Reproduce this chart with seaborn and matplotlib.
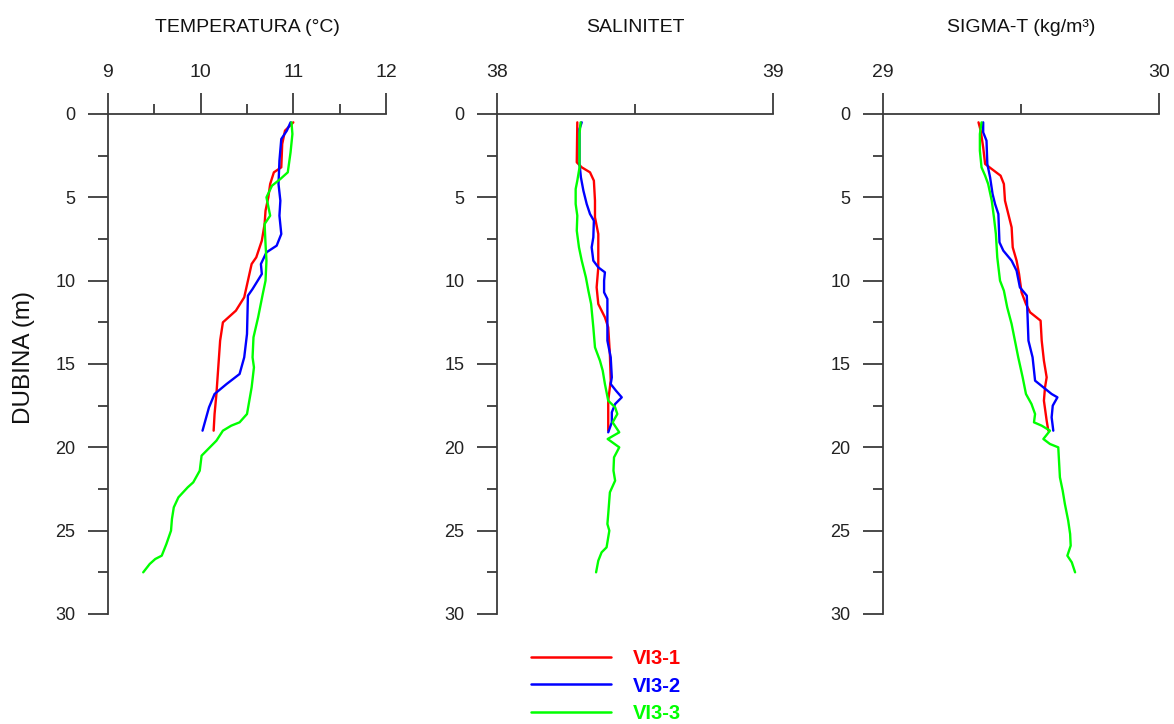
import numpy as np
import pandas as pd
import matplotlib
matplotlib.use("Agg")
import matplotlib.pyplot as plt
from matplotlib.ticker import MultipleLocator
import seaborn as sns

# ---------------- data ----------------
stations = ["VI3-1", "VI3-2", "VI3-3"]
colors = ["#ff0000", "#0000ff", "#00ff00"]

# Temperature (°C)
temp_d1 = [0.5, 1.0, 1.8, 3.2, 3.5, 4.2, 5.0, 5.8, 6.6, 7.6, 8.6, 9.0, 10.0, 11.0, 11.8, 12.5, 13.6, 15.2, 16.8, 18.0, 19.0]
temp_v1 = [11.00, 10.91, 10.88, 10.87, 10.79, 10.75, 10.73, 10.70, 10.69, 10.66, 10.60, 10.55, 10.51, 10.47, 10.38, 10.24, 10.21, 10.19, 10.17, 10.15, 10.14]
temp_d2 = [0.5, 1.0, 1.5, 2.8, 4.2, 5.2, 6.1, 7.2, 7.9, 8.3, 9.0, 9.6, 10.5, 10.9, 13.2, 14.6, 15.6, 16.2, 16.8, 17.6, 19.0]
temp_v2 = [10.97, 10.93, 10.87, 10.85, 10.84, 10.86, 10.85, 10.87, 10.82, 10.71, 10.65, 10.66, 10.56, 10.51, 10.50, 10.47, 10.42, 10.28, 10.15, 10.09, 10.02]
temp_d3 = [0.5, 1.2, 2.3, 3.5, 3.9, 4.3, 5.0, 6.1, 6.6, 7.8, 8.8, 10.0, 10.8, 12.2, 13.4, 14.6, 15.2, 16.4, 17.2, 18.0,
           18.5, 18.7, 19.0, 19.6, 20.5, 21.4, 22.1, 22.4, 23.0, 23.6, 24.3, 25.0, 25.8, 26.5, 26.7, 27.0, 27.5]
temp_v3 = [10.98, 10.99, 10.97, 10.94, 10.86, 10.77, 10.71, 10.75, 10.69, 10.70, 10.71, 10.70, 10.67, 10.62, 10.57, 10.56, 10.575, 10.55, 10.525, 10.50,
           10.42, 10.33, 10.24, 10.17, 10.01, 9.99, 9.92, 9.86, 9.76, 9.71, 9.69, 9.68, 9.63, 9.58, 9.51, 9.45, 9.38]

# Salinity
sal_d1 = [0.5, 2.9, 3.2, 3.5, 4.0, 5.2, 6.2, 7.2, 9.2, 10.4, 11.4, 12.2, 12.8, 14.4, 16.0, 17.2, 19.0]
sal_v1 = [38.291, 38.289, 38.307, 38.337, 38.351, 38.355, 38.355, 38.367, 38.367, 38.361, 38.367, 38.391, 38.403, 38.409, 38.412, 38.403, 38.403]
sal_d2 = [0.5, 0.9, 3.0, 3.8, 4.6, 5.4, 6.0, 6.4, 7.4, 8.0, 8.8, 9.2, 9.5, 10.0, 10.7, 11.1, 13.6, 14.6, 15.8, 16.2, 16.6, 17.0, 17.4, 17.9, 18.5, 19.1]
sal_v2 = [38.307, 38.299, 38.299, 38.304, 38.313, 38.325, 38.337, 38.351, 38.349, 38.343, 38.349, 38.367, 38.391, 38.388, 38.388, 38.400, 38.400, 38.412, 38.416, 38.412, 38.431, 38.452, 38.428, 38.416, 38.416, 38.403]
sal_d3 = [0.5, 1.2, 3.2, 4.0, 4.5, 5.4, 6.1, 7.0, 8.0, 8.8, 9.8, 10.6, 11.4, 12.8, 14.0, 14.8, 15.4, 16.2, 17.2, 17.6, 18.0,
          18.5, 19.1, 19.5, 20.0, 20.6, 21.4, 22.0, 22.7, 24.0, 24.6, 25.0, 26.0, 26.3, 26.8, 27.5]
sal_v3 = [38.303, 38.299, 38.299, 38.291, 38.285, 38.285, 38.291, 38.289, 38.297, 38.307, 38.322, 38.331, 38.341, 38.349, 38.355, 38.373, 38.383, 38.391, 38.403, 38.428, 38.436,
          38.419, 38.443, 38.401, 38.443, 38.424, 38.422, 38.428, 38.409, 38.403, 38.400, 38.407, 38.397, 38.379, 38.367, 38.359]

# Sigma-t (kg/m3)
sig_d1 = [0.5, 1.0, 2.0, 3.0, 3.3, 3.7, 4.2, 5.2, 6.0, 6.8, 8.0, 8.8, 9.6, 10.7, 11.4, 11.9, 12.4, 13.6, 14.8, 15.8, 16.4, 17.2, 18.4, 19.0]
sig_v1 = [29.346, 29.354, 29.363, 29.370, 29.394, 29.426, 29.438, 29.442, 29.454, 29.466, 29.470, 29.484, 29.493, 29.502, 29.518, 29.533, 29.571, 29.575, 29.583, 29.593, 29.587, 29.583, 29.593, 29.599]
sig_d2 = [0.5, 1.1, 1.6, 3.0, 3.8, 4.8, 5.4, 6.0, 7.7, 8.2, 8.8, 9.4, 10.4, 10.9, 13.6, 14.6, 16.0, 16.4, 16.8, 17.0, 17.5, 18.2, 19.0]
sig_v2 = [29.363, 29.363, 29.375, 29.378, 29.388, 29.397, 29.406, 29.418, 29.422, 29.436, 29.466, 29.484, 29.496, 29.521, 29.527, 29.542, 29.551, 29.581, 29.611, 29.632, 29.615, 29.611, 29.617]
sig_d3 = [0.5, 1.2, 2.2, 3.2, 3.7, 4.2, 5.2, 6.2, 7.2, 8.6, 10.0, 10.6, 11.6, 12.6, 13.6, 14.6, 15.8, 16.8, 17.4, 18.0, 18.5, 18.7, 19.0,
          19.5, 19.8, 20.0, 21.2, 21.8, 22.6, 23.4, 24.4, 25.2, 25.9, 26.5, 26.9, 27.5]
sig_v3 = [29.357, 29.351, 29.351, 29.357, 29.370, 29.381, 29.394, 29.402, 29.409, 29.414, 29.424, 29.438, 29.450, 29.466, 29.478, 29.490, 29.506, 29.518, 29.538, 29.551, 29.547, 29.575, 29.605,
          29.581, 29.605, 29.635, 29.639, 29.641, 29.651, 29.659, 29.671, 29.678, 29.680, 29.668, 29.684, 29.696]

titles = ["TEMPERATURA (°C)", "SALINITET", "SIGMA-T (kg/m³)"]
y_label = "DUBINA (m)"
xlims = [(9, 12), (38, 39), (29, 30)]
x_major = [1, 1, 1]
x_minor = [0.5, 0.5, 0.5]
depth_ticks = [0, 5, 10, 15, 20, 25, 30]


def long_frame(depths, values):
    frames = []
    for st, d, v in zip(stations, depths, values):
        frames.append(pd.DataFrame({"station": st, "depth": d, "value": v}))
    return pd.concat(frames, ignore_index=True)


panels = [
    long_frame([temp_d1, temp_d2, temp_d3], [temp_v1, temp_v2, temp_v3]),
    long_frame([sal_d1, sal_d2, sal_d3], [sal_v1, sal_v2, sal_v3]),
    long_frame([sig_d1, sig_d2, sig_d3], [sig_v1, sig_v2, sig_v3]),
]

# ---------------- style ----------------
sns.set_style("white")
plt.rcParams["font.family"] = ["Liberation Sans", "DejaVu Sans"]
spine_col = "#3a3a3a"

W, H = 1174, 724
fig = plt.figure(figsize=(W / 100, H / 100), dpi=100)

lefts = [108, 497, 883]
widths = [278, 276, 276]
top_px, bot_px = 114, 614

palette = dict(zip(stations, colors))
handles = labels = None
for i, df in enumerate(panels):
    ax = fig.add_axes([lefts[i] / W, 1 - bot_px / H, widths[i] / W, (bot_px - top_px) / H])
    sns.lineplot(data=df, x="value", y="depth", hue="station", palette=palette,
                 sort=False, estimator=None, linewidth=1.7, ax=ax, legend=(i == 0))
    if i == 0:
        handles, labels = ax.get_legend_handles_labels()
        ax.get_legend().remove()
    ax.set_xlim(*xlims[i])
    ax.set_ylim(30, 0)
    ax.xaxis.set_major_locator(MultipleLocator(x_major[i]))
    ax.xaxis.set_minor_locator(MultipleLocator(x_minor[i]))
    ax.set_yticks(depth_ticks)
    ax.yaxis.set_minor_locator(MultipleLocator(2.5))
    ax.xaxis.tick_top()
    ax.xaxis.set_label_position("top")
    ax.set_xlabel("")
    ax.set_ylabel("")
    for s in ["right", "bottom"]:
        ax.spines[s].set_visible(False)
    for s in ["left", "top"]:
        ax.spines[s].set_color(spine_col)
        ax.spines[s].set_linewidth(1.3)
    ax.tick_params(axis="x", which="major", direction="out", length=15, width=1.3,
                   color=spine_col, labelsize=14, pad=9, top=True, bottom=False,
                   labelcolor="#222222")
    ax.tick_params(axis="x", which="minor", direction="out", length=7.5, width=1.3,
                   color=spine_col, top=True, bottom=False)
    ax.tick_params(axis="y", which="major", direction="out", length=14.5, width=1.3,
                   color=spine_col, labelsize=13, pad=9, left=True, labelcolor="#222222")
    ax.tick_params(axis="y", which="minor", direction="out", length=7.5, width=1.3,
                   color=spine_col, left=True)
    ax.text(0.5, 1 + (top_px - 27) / (bot_px - top_px), titles[i], transform=ax.transAxes,
            ha="center", va="center", fontsize=14, color="#111111")

fig.text(24 / W, 1 - 358 / H, y_label, rotation=90, ha="center", va="center",
         fontsize=17.5, color="#111111")

leg = fig.legend(handles, labels, loc="center", bbox_to_anchor=(606 / W, 1 - 686 / H),
                 frameon=False, handlelength=4.0, handletextpad=1.1, labelspacing=0.4,
                 prop={"weight": "bold", "size": 14.5}, labelcolor="linecolor")
for ln in leg.get_lines():
    ln.set_linewidth(1.8)

fig.savefig("out.png", dpi=100, facecolor="white")
